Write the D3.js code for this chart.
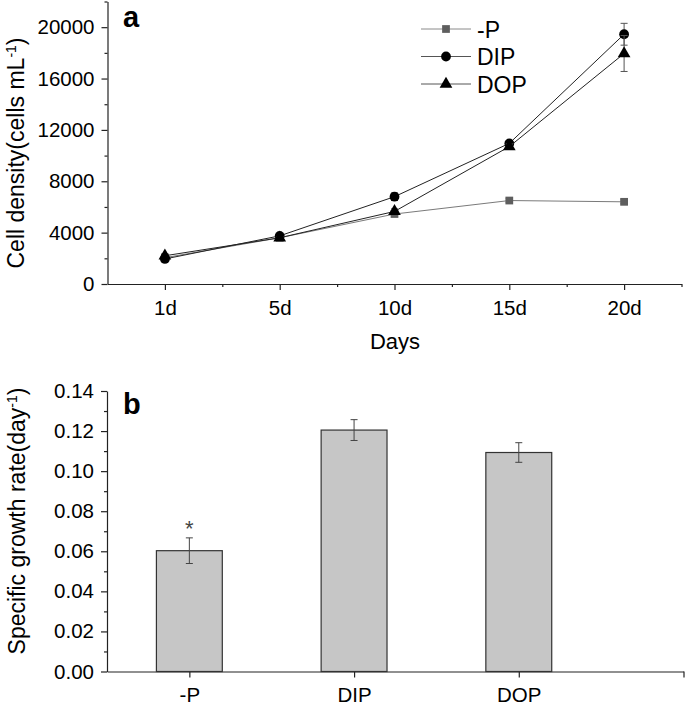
<!DOCTYPE html>
<html>
<head>
<meta charset="utf-8">
<script src="https://cdn.jsdelivr.net/npm/d3@7"></script>
<style>
  body { margin: 0; background: #fff; }
  text { font-family: Arial, "Liberation Sans", sans-serif; }
</style>
</head>
<body>
<script>
// size of the page
var w = 685;
var h = 707;

// panel a: cell density
var days = ["1d", "5d", "10d", "15d", "20d"];
var seriesNames = ["-P", "DIP", "DOP"];
var minusP = [2050, 3600, 5450, 6500, 6400];
var minusPErr = [100, 100, 150, 150, 150];
var dip = [1950, 3750, 6800, 10950, 19450];
var dipErr = [150, 120, 300, 200, 850];
var dop = [2200, 3600, 5650, 10700, 17950];
var dopErr = [150, 100, 200, 200, 1400];
var densityTicks = [0, 4000, 8000, 12000, 16000, 20000];

// panel b: specific growth rate
var groups = ["-P", "DIP", "DOP"];
var growth = [0.0603, 0.1205, 0.1093];
var growthErr = [0.0064, 0.0052, 0.0049];
var rateTicks = [0, 0.02, 0.04, 0.06, 0.08, 0.10, 0.12, 0.14];

var axisColor = "#222";

var svg = d3.select("body")
    .append("svg")
    .attr("width", w)
    .attr("height", h);

// style an axis group
function styleAxis(g, fontSize) {
    g.select(".domain").attr("stroke", axisColor).attr("stroke-width", 1.2);
    g.selectAll(".tick line").attr("stroke", axisColor).attr("stroke-width", 1.2);
    g.selectAll(".tick text")
        .attr("fill", "#000")
        .style("font-size", fontSize + "px")
        .style("font-family", "Arial, 'Liberation Sans', sans-serif");
}

// ---------------- panel a ----------------
var xA = d3.scaleLinear().domain([0.5, 5.5]).range([107.5, 681.5]);
var yA = d3.scaleLinear().domain([0, 22000]).range([284, 1.5]);

var gAx = svg.append("g").attr("transform", "translate(0,284)")
    .call(d3.axisBottom(xA).tickValues([1, 2, 3, 4, 5])
        .tickFormat(function(d) { return days[d - 1]; })
        .tickSize(6).tickSizeOuter(0).tickPadding(10));
styleAxis(gAx, 20.5);
// minor ticks on x
var gAxm = svg.append("g").attr("transform", "translate(0,284)")
    .call(d3.axisBottom(xA).tickValues([1.5, 2.5, 3.5, 4.5, 5.5])
        .tickFormat("").tickSize(3).tickSizeOuter(0));
styleAxis(gAxm, 20);
gAxm.select(".domain").remove();

var gAy = svg.append("g").attr("transform", "translate(107.5,0)")
    .call(d3.axisLeft(yA).tickValues(densityTicks)
        .tickFormat(d3.format("d"))
        .tickSize(6).tickSizeOuter(0).tickPadding(7));
styleAxis(gAy, 20.5);
var gAym = svg.append("g").attr("transform", "translate(107.5,0)")
    .call(d3.axisLeft(yA).tickValues([2000, 6000, 10000, 14000, 18000, 22000])
        .tickFormat("").tickSize(3).tickSizeOuter(0));
styleAxis(gAym, 20);
gAym.select(".domain").remove();

// axis titles
svg.append("text")
    .attr("x", 395).attr("y", 349)
    .attr("text-anchor", "middle")
    .style("font-size", "22px")
    .text("Days");

var tA = svg.append("text")
    .attr("transform", "translate(24,153) rotate(-90)")
    .attr("text-anchor", "middle")
    .style("font-size", "23px");
tA.append("tspan").text("Cell density(cells mL");
tA.append("tspan").attr("dy", -8).style("font-size", "14px").text("-1");
tA.append("tspan").attr("dy", 8).text(")");

svg.append("text")
    .attr("x", 123).attr("y", 27)
    .style("font-size", "29px").style("font-weight", "bold")
    .text("a");

// lines, error bars, markers
var seriesA = [
    { name: "-P", vals: minusP, err: minusPErr, color: "#7a7a7a", mcolor: "#5e5e5e", shape: "square" },
    { name: "DIP", vals: dip, err: dipErr, color: "#222", mcolor: "#000", shape: "circle" },
    { name: "DOP", vals: dop, err: dopErr, color: "#222", mcolor: "#000", shape: "triangle" }
];

var line = d3.line()
    .x(function(d, i) { return xA(i + 1); })
    .y(function(d) { return yA(d); });

function symbolFor(shape) {
    if (shape === "square") return d3.symbol().type(d3.symbolSquare).size(60)();
    if (shape === "circle") return d3.symbol().type(d3.symbolCircle).size(75)();
    return d3.symbol().type(d3.symbolTriangle).size(70)();
}

seriesA.forEach(function(s) {
    svg.append("path")
        .attr("d", line(s.vals))
        .attr("fill", "none")
        .attr("stroke", s.color)
        .attr("stroke-width", 1);

    var eb = svg.append("g").selectAll("g")
        .data(s.vals)
        .enter()
        .append("g")
        .attr("stroke", "#555")
        .attr("stroke-width", 1);
    eb.append("line")
        .attr("x1", function(d, i) { return xA(i + 1); })
        .attr("x2", function(d, i) { return xA(i + 1); })
        .attr("y1", function(d, i) { return yA(d + s.err[i]); })
        .attr("y2", function(d, i) { return yA(d - s.err[i]); });
    [1, -1].forEach(function(sign) {
        eb.append("line")
            .attr("x1", function(d, i) { return xA(i + 1) - 3.5; })
            .attr("x2", function(d, i) { return xA(i + 1) + 3.5; })
            .attr("y1", function(d, i) { return yA(d + sign * s.err[i]); })
            .attr("y2", function(d, i) { return yA(d + sign * s.err[i]); });
    });

    svg.append("g").selectAll("path")
        .data(s.vals)
        .enter()
        .append("path")
        .attr("d", symbolFor(s.shape))
        .attr("transform", function(d, i) {
            return "translate(" + xA(i + 1) + "," + yA(d) + ")";
        })
        .attr("fill", s.mcolor);
});

// legend
var legend = svg.append("g").selectAll("g")
    .data(seriesA)
    .enter()
    .append("g")
    .attr("transform", function(d, i) { return "translate(421," + (29 + i * 27.5) + ")"; });
legend.append("line")
    .attr("x1", 0).attr("x2", 50)
    .attr("stroke", function(d) { return d.name === "-P" ? "#8a8a8a" : "#555"; })
    .attr("stroke-width", 1);
legend.append("path")
    .attr("d", function(d) { return symbolFor(d.shape); })
    .attr("transform", "translate(25,0)")
    .attr("fill", function(d) { return d.mcolor; });
legend.append("text")
    .attr("x", 56).attr("y", 8.5)
    .style("font-size", "23px")
    .text(function(d) { return d.name; });

// ---------------- panel b ----------------
var xB = d3.scaleLinear().domain([0.5, 4]).range([107, 683.5]);
var yB = d3.scaleLinear().domain([0, 0.14]).range([671.5, 391]);
var barW = 0.4 * (xB(2) - xB(1));

var gBx = svg.append("g").attr("transform", "translate(0,671.5)")
    .call(d3.axisBottom(xB).tickValues([1, 2, 3, 4])
        .tickFormat(function(d) { return groups[d - 1] || ""; })
        .tickSize(6).tickSizeOuter(0).tickPadding(10));
styleAxis(gBx, 20.5);

var gBy = svg.append("g").attr("transform", "translate(107,0)")
    .call(d3.axisLeft(yB).tickValues(rateTicks)
        .tickFormat(d3.format(".2f"))
        .tickSize(6).tickSizeOuter(0).tickPadding(7));
styleAxis(gBy, 20.5);
var gBym = svg.append("g").attr("transform", "translate(107,0)")
    .call(d3.axisLeft(yB).tickValues([0.01, 0.03, 0.05, 0.07, 0.09, 0.11, 0.13])
        .tickFormat("").tickSize(3).tickSizeOuter(0));
styleAxis(gBym, 20);
gBym.select(".domain").remove();

svg.selectAll("rect.bar")
    .data(growth)
    .enter()
    .append("rect")
    .attr("class", "bar")
    .attr("x", function(d, i) { return xB(i + 1) - barW / 2; })
    .attr("y", function(d) { return yB(d); })
    .attr("width", barW)
    .attr("height", function(d) { return yB(0) - yB(d); })
    .attr("fill", "#c6c6c6")
    .attr("stroke", "#333")
    .attr("stroke-width", 1.2);

var ebB = svg.append("g").selectAll("g")
    .data(growth)
    .enter()
    .append("g")
    .attr("stroke", "#444")
    .attr("stroke-width", 1);
ebB.append("line")
    .attr("x1", function(d, i) { return xB(i + 1); })
    .attr("x2", function(d, i) { return xB(i + 1); })
    .attr("y1", function(d, i) { return yB(d + growthErr[i]); })
    .attr("y2", function(d, i) { return yB(d - growthErr[i]); });
[1, -1].forEach(function(sign) {
    ebB.append("line")
        .attr("x1", function(d, i) { return xB(i + 1) - 3.5; })
        .attr("x2", function(d, i) { return xB(i + 1) + 3.5; })
        .attr("y1", function(d, i) { return yB(d + sign * growthErr[i]); })
        .attr("y2", function(d, i) { return yB(d + sign * growthErr[i]); });
});

// significance mark on -P
svg.append("text")
    .attr("x", xB(1)).attr("y", yB(growth[0] + growthErr[0]) - 2)
    .attr("text-anchor", "middle")
    .attr("fill", "#444")
    .style("font-size", "22px")
    .text("*");

var tB = svg.append("text")
    .attr("transform", "translate(25,521) rotate(-90)")
    .attr("text-anchor", "middle")
    .style("font-size", "23px");
tB.append("tspan").text("Specific growth rate(day");
tB.append("tspan").attr("dy", -8).style("font-size", "14px").text("-1");
tB.append("tspan").attr("dy", 8).text(")");

svg.append("text")
    .attr("x", 123).attr("y", 414)
    .style("font-size", "29px").style("font-weight", "bold")
    .text("b");
</script>
</body>
</html>
